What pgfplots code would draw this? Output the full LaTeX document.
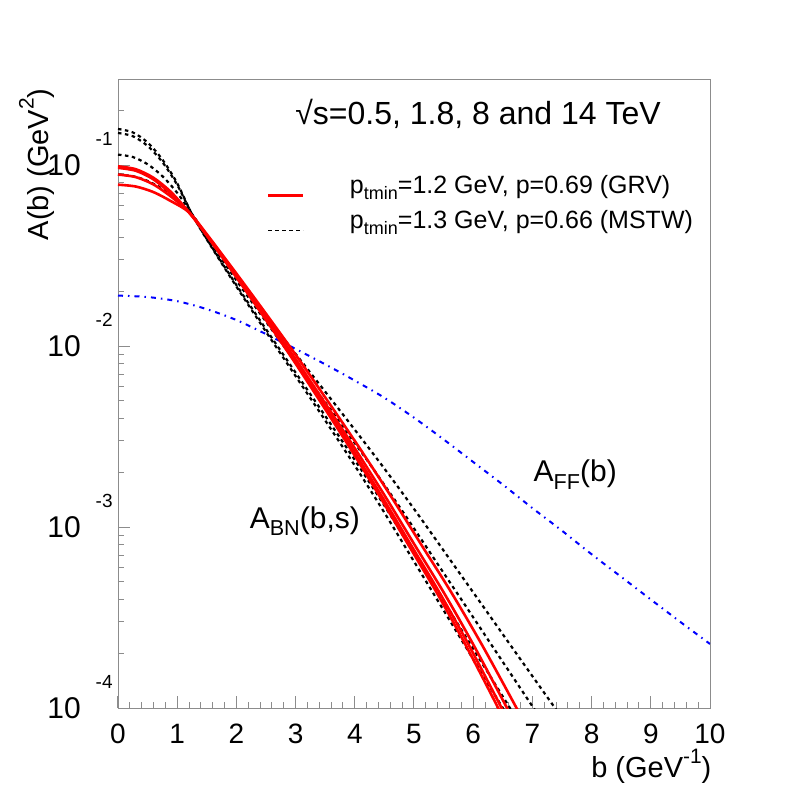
\documentclass[border=0pt]{standalone}
\usepackage{pgfplots}
\pgfplotsset{compat=1.18}
\usepackage{fontspec}
\setmainfont{Liberation Sans}
\definecolor{framegray}{RGB}{140,140,140}
\definecolor{ffblue}{RGB}{0,0,255}
\newcommand{\sub}[1]{\raisebox{-0.25em}{\scalebox{0.72}{#1}}}
\newcommand{\sups}[1]{\raisebox{0.5em}{\scalebox{0.72}{#1}}}
\newcommand{\ylab}[1]{10\hspace{7.5pt}\smash{\raisebox{15pt}{\fontsize{9.5}{10}\selectfont #1}}}

\begin{document}
\begin{tikzpicture}
\path[use as bounding box] (-59pt,-40pt) rectangle (335pt,354pt);
\begin{axis}[
    scale only axis,
    width=296pt, height=314.5pt,
    xmin=0, xmax=10,
    ymode=log, ymin=1e-4, ymax=0.3,
    clip mode=individual,
    axis line style={draw=framegray},
    every tick/.append style={draw=framegray, line width=0.5pt},
    tick align=inside,
    xtick pos=left, ytick pos=left,
    major tick length=6pt, minor tick length=3pt,
    xtick={0,1,2,3,4,5,6,7,8,9,10},
    minor x tick num=4,
    ytick={1e-4,1e-3,1e-2,1e-1},
    yticklabels={\ylab{-4},\ylab{-3},\ylab{-2},\ylab{-1}},
    minor ytick={2e-4,3e-4,4e-4,5e-4,6e-4,7e-4,8e-4,9e-4,
                 2e-3,3e-3,4e-3,5e-3,6e-3,7e-3,8e-3,9e-3,
                 2e-2,3e-2,4e-2,5e-2,6e-2,7e-2,8e-2,9e-2,2e-1},
    /pgf/number format/assume math mode=true,
    xticklabel style={font=\fontsize{14}{16}\selectfont, inner sep=0pt, yshift=-8pt},
    yticklabel style={font=\fontsize{15}{16}\selectfont, anchor=east, inner sep=0pt, xshift=-2.5pt},
    legend style={at={(0.251,0.853)}, anchor=north west, draw=none, fill=none,
                  font=\fontsize{12.5}{14}\selectfont, inner sep=0pt,
                  nodes={inner sep=1.5pt}, row sep=4pt},
    legend cell align=left,
    legend image code/.code={\draw[#1] (0pt,-5pt) -- (17.5pt,-5pt); \path[draw=none] (0pt,0pt) -- (39.4pt,0pt);},
]
\addlegendimage{red, line width=1.2pt}
\addlegendentry{p\sub{tmin}=1.2 GeV, p=0.69 (GRV)}
\addlegendimage{black, line width=0.9pt, dash pattern=on 1.75pt off 1.75pt}
\addlegendentry{p\sub{tmin}=1.3 GeV, p=0.66 (MSTW)}

% A_FF(b)
\addplot[ffblue, line width=1pt, smooth, dash pattern=on 2.5pt off 2.5pt on 0.75pt off 2.5pt, forget plot] coordinates {
(0,0.01905) (0.5,0.01871) (1,0.01774) (1.5,0.01603) (2,0.01396) (2.5,0.01167)
(3,0.009661) (3.5,0.007943) (4,0.006457) (4.5,0.005188) (5,0.004027) (5.5,0.003055)
(6,0.002291) (6.5,0.001718) (7,0.001274) (7.5,0.000955) (8,0.000708) (8.5,0.000531)
(9,0.000398) (9.5,0.000299) (10,0.000226)
};

% MSTW, black dashed
\addplot[black, line width=1.1pt, smooth, dash pattern=on 1.75pt off 1.75pt, forget plot] coordinates {
(0,0.1589) (0.25,0.1521) (0.5,0.1337) (0.75,0.1076) (1.0,0.0796) (1.25,0.0537)
(1.5,0.0389) (2.0,0.02138) (2.5,0.01202) (3.0,0.006839) (3.5,0.00389) (4.0,0.002188)
(4.5,0.001202) (5.0,0.000646) (5.5,0.000347) (6.0,0.000186) (6.5,0.0001) (6.8,0.0000692)
};
\addplot[black, line width=1.1pt, smooth, dash pattern=on 1.75pt off 1.75pt, forget plot] coordinates {
(0,0.1510) (0.25,0.1449) (0.5,0.1280) (0.75,0.1042) (1.0,0.07798) (1.25,0.0537)
(1.506,0.0389) (2.017,0.02138) (2.529,0.01202) (3.040,0.006839) (3.552,0.00389) (4.063,0.002188)
(4.575,0.001202) (5.086,0.000646) (5.598,0.000347) (6.109,0.000186) (6.621,0.0001) (6.928,0.0000692)
};
\addplot[black, line width=1.1pt, smooth, dash pattern=on 1.75pt off 1.75pt, forget plot] coordinates {
(0,0.1146) (0.25,0.1112) (0.5,0.1014) (0.75,0.0871) (1.0,0.07047) (1.25,0.0537)
(1.525,0.0389) (2.074,0.02138) (2.624,0.01202) (3.173,0.006839) (3.723,0.00389) (4.272,0.002188)
(4.822,0.001202) (5.371,0.000646) (5.921,0.000347) (6.470,0.000186) (7.020,0.0001) (7.349,0.0000692)
};
\addplot[black, line width=1.1pt, smooth, dash pattern=on 1.75pt off 1.75pt, forget plot] coordinates {
(0,0.08892) (0.25,0.0871) (0.5,0.08204) (0.75,0.07413) (1.0,0.06442) (1.25,0.0537)
(1.542,0.0389) (2.126,0.02138) (2.710,0.01202) (3.294,0.006839) (3.878,0.00389) (4.462,0.002188)
(5.046,0.001202) (5.630,0.000646) (6.214,0.000347) (6.798,0.000186) (7.382,0.0001) (7.732,0.0000692)
};

% GRV, red solid
\addplot[red, line width=1.3pt, smooth, forget plot] coordinates {
(0,0.09874) (0.3,0.09517) (0.6,0.08531) (0.9,0.07096) (1.2,0.05495)
(1.493,0.04121) (1.981,0.02455) (2.469,0.01445) (2.957,0.008414) (3.445,0.004786) (3.933,0.002692)
(4.421,0.001479) (4.909,0.000794) (5.397,0.000427) (5.885,0.000219) (6.422,0.0001) (6.666,0.0000692)
};
\addplot[red, line width=1.3pt, smooth, forget plot] coordinates {
(0,0.09683) (0.3,0.09333) (0.6,0.08356) (0.9,0.06931) (1.2,0.05495)
(1.496,0.04121) (1.990,0.02455) (2.483,0.01445) (2.977,0.008414) (3.470,0.004786) (3.964,0.002692)
(4.457,0.001479) (4.951,0.000794) (5.444,0.000427) (5.938,0.000219) (6.480,0.0001) (6.727,0.0000692)
};
\addplot[red, line width=1.3pt, smooth, forget plot] coordinates {
(0,0.08892) (0.3,0.0861) (0.6,0.07834) (0.9,0.06699) (1.2,0.05495)
(1.501,0.04121) (2.003,0.02455) (2.505,0.01445) (3.007,0.008414) (3.509,0.004786) (4.011,0.002692)
(4.513,0.001479) (5.015,0.000794) (5.517,0.000427) (6.019,0.000219) (6.571,0.0001) (6.822,0.0000692)
};
\addplot[red, line width=1.3pt, smooth, forget plot] coordinates {
(0,0.07816) (0.3,0.07638) (0.6,0.07112) (0.9,0.06324) (1.2,0.05495)
(1.510,0.04121) (2.027,0.02455) (2.544,0.01445) (3.061,0.008414) (3.578,0.004786) (4.095,0.002692)
(4.612,0.001479) (5.129,0.000794) (5.646,0.000427) (6.163,0.000219) (6.732,0.0001) (6.990,0.0000692)
};

\node[anchor=base west, inner sep=0pt, font=\fontsize{16}{18}\selectfont] at (rel axis cs:0.299,0.927) {√s=0.5, 1.8, 8 and 14 TeV};
\node[anchor=base west, inner sep=0pt, font=\fontsize{15}{17}\selectfont] at (rel axis cs:0.222,0.2857) {A\sub{BN}(b,s)};
\node[anchor=base west, inner sep=0pt, font=\fontsize{15}{17}\selectfont] at (rel axis cs:0.7015,0.3598) {A\sub{FF}(b)};
\node[anchor=base east, rotate=90, inner sep=0pt, font=\fontsize{14.5}{16}\selectfont] at (rel axis cs:-0.118,0.9857) {A(b) (GeV\sups{2})};
\node[anchor=base east, inner sep=0pt, font=\fontsize{14.5}{16}\selectfont] at (rel axis cs:1.003,-0.111) {b (GeV\sups{-1})};
\end{axis}
\end{tikzpicture}
\end{document}
